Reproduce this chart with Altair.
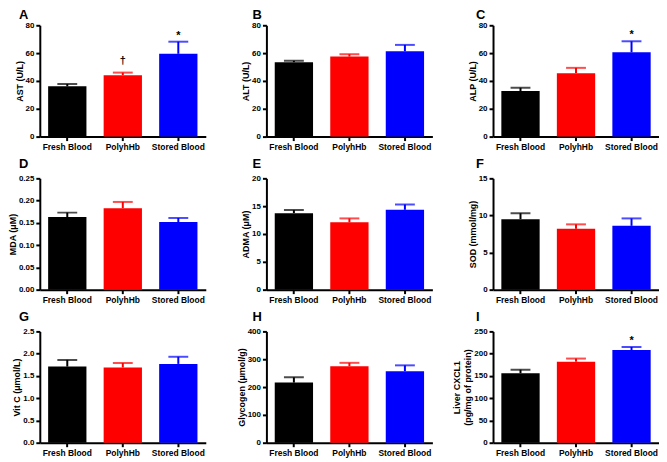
import altair as alt
import pandas as pd

groups = ["Fresh Blood", "PolyhHb", "Stored Blood"]
colors = ["#000000", "#FF0000", "#0000FF"]

letters = ["A", "B", "C", "D", "E", "F", "G", "H", "I"]
titles = ["AST (U/L)", "ALT (U/L)", "ALP (U/L)",
          "MDA (\u03bcM)", "ADMA (\u03bcM)", "SOD (mmol/mg)",
          "Vit C (\u03bcmol/L)", "Glycogen (\u03bcmol/g)",
          ["Liver CXCL1", "(pg/mg of protein)"]]

ast_mean = [36.1, 44.1, 59.5]
ast_err = [1.7, 1.9, 8.7]
alt_mean = [53.5, 57.5, 61.3]
alt_err = [1.0, 1.7, 4.6]
alp_mean = [32.7, 45.6, 60.6]
alp_err = [2.4, 3.8, 7.9]
mda_mean = [0.163, 0.183, 0.152]
mda_err = [0.010, 0.014, 0.009]
adma_mean = [13.75, 12.1, 14.35]
adma_err = [0.55, 0.7, 0.95]
sod_mean = [9.5, 8.2, 8.6]
sod_err = [0.8, 0.6, 1.0]
vitc_mean = [1.71, 1.69, 1.77]
vitc_err = [0.15, 0.10, 0.16]
glyc_mean = [216, 275, 257]
glyc_err = [19, 12, 21]
cxcl_mean = [156, 182, 208]
cxcl_err = [8, 7, 7]

y_ticks = [
    [0, 20, 40, 60, 80], [0, 20, 40, 60, 80], [0, 20, 40, 60, 80],
    [0, 0.05, 0.10, 0.15, 0.20, 0.25], [0, 5, 10, 15, 20], [0, 5, 10, 15],
    [0, 0.5, 1.0, 1.5, 2.0, 2.5], [0, 100, 200, 300, 400], [0, 50, 100, 150, 200, 250],
]
y_formats = ["d", "d", "d", ".2f", "d", "d", ".1f", "d", "d"]

# significance marks: (panel index, group, symbol)
sig_panel = [0, 0, 2, 8]
sig_group = ["PolyhHb", "Stored Blood", "Stored Blood", "Stored Blood"]
sig_text = ["\u2020", "*", "*", "*"]

means = [ast_mean, alt_mean, alp_mean, mda_mean, adma_mean, sod_mean, vitc_mean, glyc_mean, cxcl_mean]
errs = [ast_err, alt_err, alp_err, mda_err, adma_err, sod_err, vitc_err, glyc_err, cxcl_err]

W, H = 167, 112
FONT = "Liberation Sans"
letter_dx = [-21, -14, -17]
letter_dy = [-16, -20, -20]
sym_dy = {"*": -1, "\u2020": -7}

color_scale = alt.Scale(domain=groups, range=colors)


def panel(i):
    m = means[i]
    e = errs[i]
    df = pd.DataFrame({"group": groups, "mean": m, "top": [a + b for a, b in zip(m, e)]})
    ticks = y_ticks[i]
    ysc = alt.Scale(domain=[ticks[0], ticks[-1]], nice=False)
    x = alt.X("group:N", sort=groups, title=None,
              scale=alt.Scale(paddingInner=0.31, paddingOuter=0.15),
              axis=alt.Axis(labelAngle=0, labelPadding=2, labelFontSize=8.5))
    col = alt.Color("group:N", scale=color_scale, legend=None)
    base = alt.Chart(df)
    bars = base.mark_bar().encode(
        x=x,
        y=alt.Y("mean:Q", scale=ysc, title=titles[i],
                axis=alt.Axis(values=ticks, tickCount=len(ticks), labelOverlap=False,
                              format=y_formats[i], labelFontSize=8, titlePadding=1)),
        color=col,
    )
    rule = base.mark_rule(strokeWidth=2).encode(x=x, y="mean:Q", y2="top:Q", color=col)
    cap = base.mark_tick(size=20, thickness=2).encode(x=x, y="top:Q", color=col)
    layers = [bars, rule, cap]
    for g, t in [(g, t) for p, g, t in zip(sig_panel, sig_group, sig_text) if p == i]:
        top = df.loc[df.group == g, "top"].iloc[0]
        sdf = pd.DataFrame({"group": [g], "top": [top], "t": [t]})
        layers.append(
            alt.Chart(sdf).mark_text(baseline="bottom", dy=sym_dy[t], font=FONT,
                                     fontWeight="bold", fontSize=11, color="black")
            .encode(x=x, y=alt.Y("top:Q", scale=ysc), text="t:N")
        )
    lt = alt.Chart(pd.DataFrame({"t": [letters[i]]})).mark_text(
        align="left", baseline="top", font=FONT, fontWeight="bold",
        fontSize=13, color="black"
    ).encode(text="t:N", x=alt.value(letter_dx[i % 3]), y=alt.value(letter_dy[i // 3]))
    layers.append(lt)
    return alt.layer(*layers).properties(width=W, height=H)


chart = alt.concat(
    *[panel(i) for i in range(9)], columns=3,
    spacing={"row": 42, "column": 61}, bounds="flush"
).properties(
    padding={"left": 0, "top": 0, "right": 0, "bottom": 0}
).configure_view(stroke=None).configure_axis(
    labelFont=FONT, labelFontWeight="bold", labelColor="black",
    titleFont=FONT, titleFontWeight="bold", titleFontSize=9, titleColor="black",
    domainColor="black", domainWidth=2, tickColor="black", tickWidth=2,
    tickSize=4, grid=False, labelPadding=2,
)

chart.save("out.html", embed_options={"renderer": "svg", "actions": False})
